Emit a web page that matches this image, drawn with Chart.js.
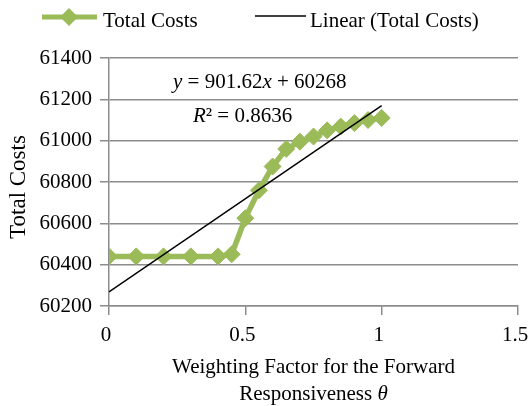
<!DOCTYPE html>
<html>
<head>
<meta charset="utf-8">
<script src="https://cdn.jsdelivr.net/npm/chart.js@4/dist/chart.umd.min.js"></script>
<style>
  html, body { margin: 0; padding: 0; background: #fff; }
  #wrap { width: 529px; height: 406px; position: relative; }
</style>
</head>
<body>
<div id="wrap"><canvas id="c" width="529" height="406"></canvas></div>
<script>
// ---- data ----
const thetaValues = [0, 0.1, 0.2, 0.3, 0.4, 0.45, 0.5, 0.55, 0.6, 0.65, 0.7, 0.75, 0.8, 0.85, 0.9, 0.95, 1.0];
const totalCosts  = [60440, 60440, 60440, 60440, 60440, 60450, 60625, 60760, 60875, 60960, 60995, 61020, 61050, 61068, 61085, 61100, 61110];
const trendX = [0, 1];
const trendY = [60268, 61169.62];
const xTicks = [0, 0.5, 1, 1.5];
const yTicks = [60200, 60400, 60600, 60800, 61000, 61200, 61400];
const seriesName = 'Total Costs';
const trendName = 'Linear (Total Costs)';
const yTitle = 'Total Costs';
const xTitleLine1 = 'Weighting Factor for the Forward';
const xTitleLine2 = ['Responsiveness ', 'θ'];
const equationText = ['y', ' = 901.62', 'x', ' + 60268'];
const r2Text = ['R', '² = 0.8636'];

const GREEN = '#9BBB59';
const GRID = '#8c8c8c';
const FONT = '"Liberation Serif", "Times New Roman", serif';

const overlay = {
  id: 'overlay',
  afterDraw(chart) {
    const ctx = chart.ctx;
    const ca = chart.chartArea;
    ctx.save();
    // legend
    ctx.strokeStyle = GREEN; ctx.lineWidth = 5;
    ctx.beginPath(); ctx.moveTo(42, 17); ctx.lineTo(97, 17); ctx.stroke();
    ctx.fillStyle = GREEN;
    ctx.beginPath(); ctx.moveTo(69, 8); ctx.lineTo(78, 17); ctx.lineTo(69, 26); ctx.lineTo(60, 17); ctx.closePath(); ctx.fill();
    ctx.strokeStyle = '#000'; ctx.lineWidth = 1.5;
    ctx.beginPath(); ctx.moveTo(255, 16); ctx.lineTo(306, 16); ctx.stroke();
    ctx.fillStyle = '#000';
    ctx.font = '21px ' + FONT;
    ctx.textBaseline = 'alphabetic';
    ctx.textAlign = 'left';
    ctx.fillText(seriesName, 103, 27);
    ctx.fillText(trendName, 310, 27);

    // equation
    const drawRich = (parts, x, y) => {
      let cx = x;
      parts.forEach((p, i) => {
        const italic = (i % 2 === 0);
        ctx.font = (italic ? 'italic ' : '') + '21px ' + FONT;
        ctx.fillText(p, cx, y);
        cx += ctx.measureText(p).width;
      });
    };
    drawRich(equationText, 173, 88);
    drawRich(r2Text, 193, 122);

    // x-axis title (two lines, italic theta)
    const cx = (ca.left + ca.right) / 2;
    ctx.font = '21px ' + FONT;
    ctx.textAlign = 'center';
    ctx.fillText(xTitleLine1, cx, 373);
    ctx.font = '21px ' + FONT;
    const wa = ctx.measureText(xTitleLine2[0]).width;
    ctx.font = 'italic 21px ' + FONT;
    const wb = ctx.measureText(xTitleLine2[1]).width;
    const start = cx - (wa + wb) / 2;
    ctx.textAlign = 'left';
    ctx.font = '21px ' + FONT;
    ctx.fillText(xTitleLine2[0], start, 400);
    ctx.font = 'italic 21px ' + FONT;
    ctx.fillText(xTitleLine2[1], start + wa, 400);

    // y-axis title
    ctx.translate(19, 187);
    ctx.rotate(-Math.PI / 2);
    ctx.font = '23px ' + FONT;
    ctx.textAlign = 'center';
    ctx.textBaseline = 'middle';
    ctx.fillText(yTitle, 0, 0);
    ctx.restore();
  }
};

new Chart(document.getElementById('c'), {
  type: 'scatter',
  data: {
    datasets: [
      {
        label: seriesName,
        data: thetaValues.map((x, i) => ({ x: x, y: totalCosts[i] })),
        showLine: true,
        borderColor: GREEN,
        backgroundColor: GREEN,
        borderWidth: 5.5,
        pointStyle: 'rectRot',
        pointRadius: 8.5,
        pointBorderWidth: 1,
        pointBackgroundColor: GREEN,
        pointBorderColor: GREEN,
        tension: 0,
        order: 2
      },
      {
        label: trendName,
        data: trendX.map((x, i) => ({ x: x, y: trendY[i] })),
        showLine: true,
        borderColor: '#000',
        borderWidth: 1.5,
        pointRadius: 0,
        order: 1
      }
    ]
  },
  options: {
    responsive: false,
    animation: false,
    devicePixelRatio: 1,
    layout: { padding: { top: 58, right: 11, bottom: 0, left: 0 } },
    plugins: { legend: { display: false }, tooltip: { enabled: false } },
    scales: {
      x: {
        type: 'linear',
        min: 0, max: 1.5,
        afterBuildTicks: (s) => { s.ticks = xTicks.map(v => ({ value: v })); },
        ticks: { color: '#000', font: { family: FONT, size: 21 }, padding: 8, maxRotation: 0,
                 labelOffset: -3, callback: (v) => String(v) },
        grid: { drawOnChartArea: false, drawTicks: true, tickLength: 9, color: GRID, lineWidth: 1.5 },
        border: { display: true, color: GRID, width: 1.5 },
        afterFit: (s) => { s.height = 100; s.paddingLeft = 0; s.paddingRight = 0; }
      },
      y: {
        type: 'linear',
        min: 60200, max: 61400,
        afterBuildTicks: (s) => { s.ticks = yTicks.map(v => ({ value: v })); },
        ticks: { color: '#000', font: { family: FONT, size: 21 }, padding: 8,
                 callback: (v) => String(v) },
        grid: { drawTicks: true, tickLength: 9, color: GRID, lineWidth: 1.5 },
        border: { display: true, color: GRID, width: 1.5 },
        afterFit: (s) => { s.width = 109; s.paddingTop = 0; s.paddingBottom = 0; }
      }
    }
  },
  plugins: [overlay]
});
</script>
</body>
</html>
